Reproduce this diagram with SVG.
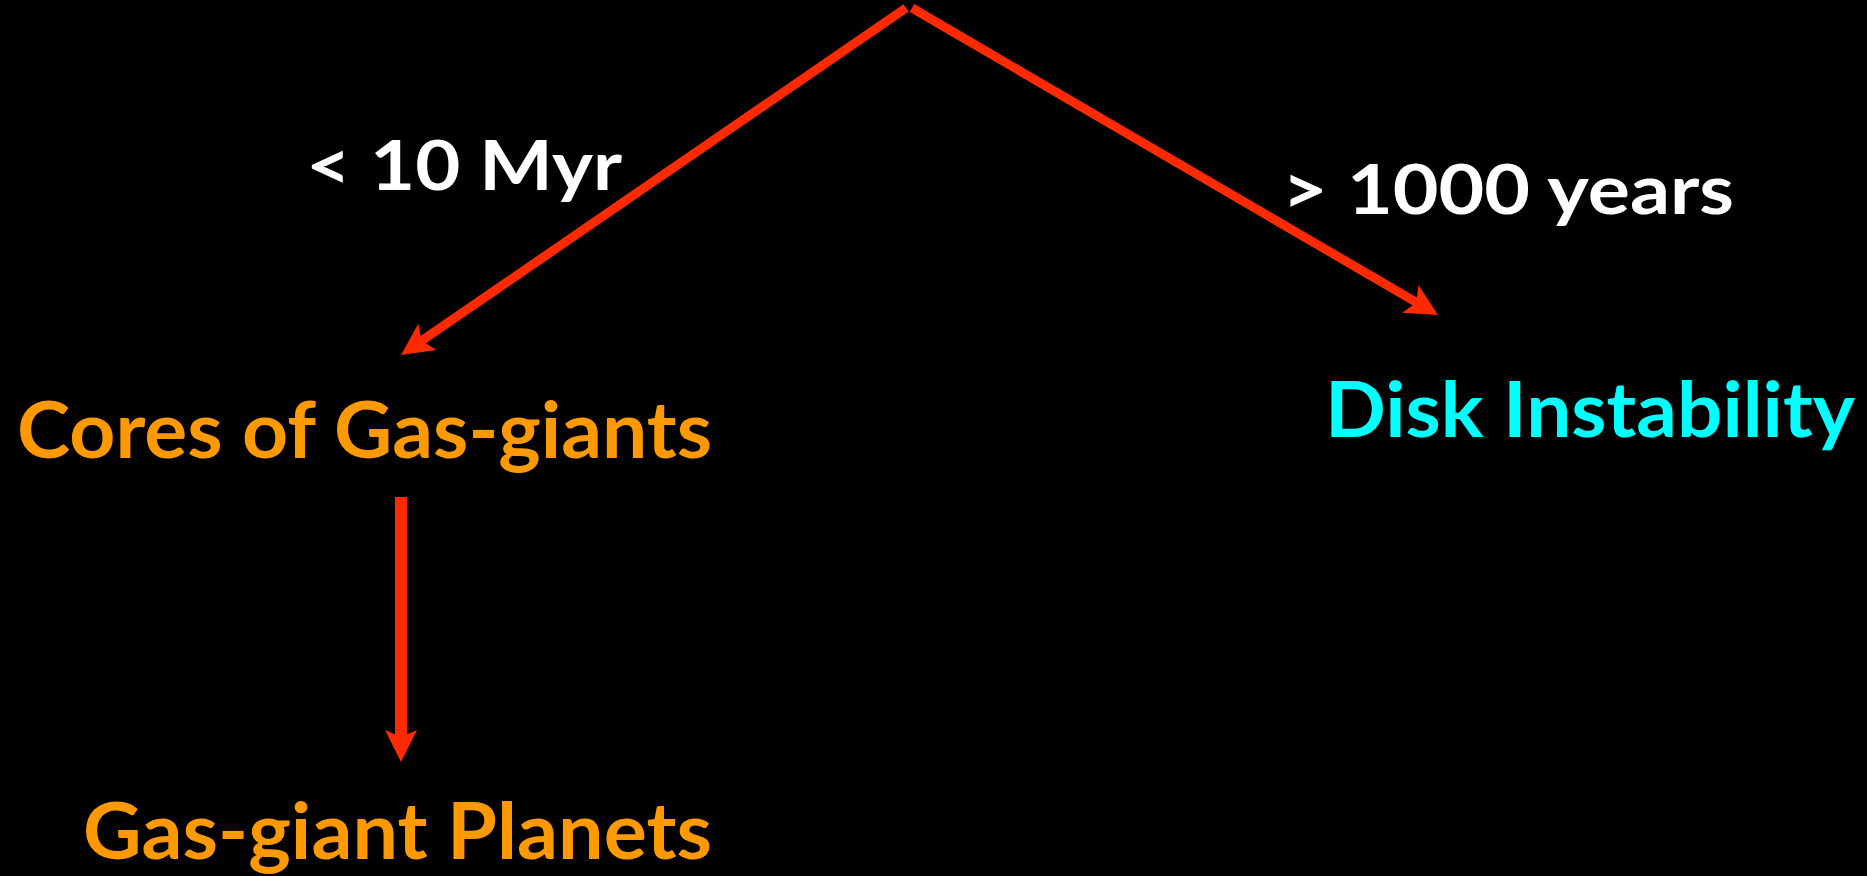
<svg xmlns="http://www.w3.org/2000/svg" width="1867" height="876" viewBox="0 0 1867 876">
  <style>
    .lbl { font-family: Lato, "Open Sans", "Liberation Sans", sans-serif; font-weight: bold; }
    .time { fill: #FFFFFF; font-size: 68px; }
    .core { fill: #FF9900; font-size: 79px; }
    .disk { fill: #00FFFF; font-size: 77px; }
    .link { stroke: #FF2A00; fill: none; stroke-linecap: butt; }
  </style>
  <defs>
    <marker id="head" markerUnits="userSpaceOnUse" viewBox="-8 -17 34 34" markerWidth="34" markerHeight="34" refX="0" refY="0" orient="auto">
      <path d="M25,0 L-7,-16 L0,0 L-7,16 Z" fill="#FF2A00"/>
    </marker>
  </defs>
  <rect width="1867" height="876" fill="#000000"/>

  <g id="connectors">
    <line class="link" x1="906" y1="8" x2="421.6" y2="340.8" stroke-width="9" marker-end="url(#head)"/>
    <line class="link" x1="912" y1="8" x2="1416.4" y2="302.4" stroke-width="9" marker-end="url(#head)"/>
    <line class="link" x1="401" y1="497" x2="401" y2="737" stroke-width="12" marker-end="url(#head)"/>
  </g>

  <g id="label-short">
    <text class="lbl time" x="306" y="190" textLength="316" lengthAdjust="spacingAndGlyphs">&lt; 10 Myr</text>
  </g>
  <g id="label-long">
    <text class="lbl time" x="1282" y="214" textLength="452" lengthAdjust="spacingAndGlyphs">&gt; 1000 years</text>
  </g>
  <g id="node-cores">
    <text class="lbl core" x="17" y="458" textLength="695" lengthAdjust="spacingAndGlyphs">Cores of Gas-giants</text>
  </g>
  <g id="node-disk">
    <text class="lbl disk" x="1325" y="437" textLength="530" lengthAdjust="spacingAndGlyphs">Disk Instability</text>
  </g>
  <g id="node-planets">
    <text class="lbl core" x="83" y="859" font-size="77" textLength="629" lengthAdjust="spacingAndGlyphs">Gas-giant Planets</text>
  </g>
</svg>
